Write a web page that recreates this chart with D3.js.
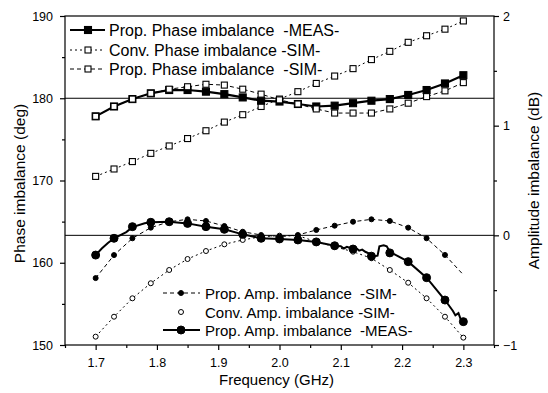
<!DOCTYPE html>
<html><head><meta charset="utf-8">
<script src="https://cdn.jsdelivr.net/npm/d3@7"></script>
<style>
body{margin:0;background:#fff;}
svg{font-family:"Liberation Sans",Arial,sans-serif;}
text{white-space:pre;}
</style></head>
<body><svg id="c" width="548" height="393"></svg>
<script>
// ---- data ----
const freq = [1.70,1.73,1.76,1.79,1.82,1.85,1.88,1.91,1.94,1.97,2.00,2.03,2.06,2.09,2.12,2.15,2.18,2.21,2.24,2.27,2.30];
const propPhaseMeas = [177.8,179.0,179.9,180.6,181.0,181.0,180.8,180.5,180.1,179.7,179.6,179.3,179.0,179.1,179.4,179.7,179.9,180.4,181.0,181.8,182.8];
const convPhaseSim  = [170.5,171.4,172.3,173.3,174.2,175.1,176.05,177.1,178.0,179.0,179.9,180.8,181.8,182.7,183.6,184.7,185.7,186.8,187.6,188.4,189.4];
const propPhaseSim  = [177.8,179.0,179.9,180.6,181.1,181.4,181.7,181.6,181.1,180.5,179.8,179.3,178.7,178.2,178.2,178.2,178.7,179.4,180.2,180.9,181.9];
const propAmpSim    = [-0.39,-0.18,-0.027,0.07,0.124,0.146,0.131,0.085,0.033,0.003,-0.012,0.003,0.049,0.088,0.124,0.146,0.131,0.07,-0.027,-0.179,-0.36];
const convAmpSim    = [-0.924,-0.742,-0.574,-0.437,-0.316,-0.216,-0.143,-0.082,-0.042,-0.012,-0.003,-0.003,-0.058,-0.104,-0.149,-0.209,-0.316,-0.432,-0.574,-0.742,-0.933];
const propAmpMeas   = [-0.18,-0.027,0.079,0.119,0.124,0.109,0.079,0.055,0.009,-0.027,-0.033,-0.042,-0.06,-0.095,-0.125,-0.19,-0.16,-0.24,-0.386,-0.59,-0.787];
// measured trace (dense)
const measTraceF = [1.70,1.71,1.72,1.73,1.75,1.76,1.78,1.79,1.82,1.85,1.88,1.91,1.94,1.97,2.00,2.03,2.06,2.09,2.10,2.105,2.11,2.12,2.125,2.13,2.135,2.14,2.15,2.155,2.16,2.163,2.17,2.175,2.18,2.21,2.24,2.27,2.283,2.287,2.292,2.296,2.30];
const measTraceV = [-0.18,-0.12,-0.07,-0.027,0.03,0.075,0.11,0.119,0.124,0.109,0.079,0.055,0.009,-0.027,-0.033,-0.042,-0.06,-0.095,-0.1,-0.12,-0.105,-0.125,-0.115,-0.14,-0.13,-0.15,-0.175,-0.19,-0.185,-0.1,-0.09,-0.1,-0.15,-0.24,-0.386,-0.59,-0.69,-0.73,-0.71,-0.77,-0.787];
const xTicks = [1.7,1.8,1.9,2.0,2.1,2.2,2.3];
const xMinor = [1.65,1.75,1.85,1.95,2.05,2.15,2.25,2.35];
const yLTicks = [150,160,170,180,190];
const yLMinor = [155,165,175,185];
const yRTicks = [-1,0,1,2];
const yRMinor = [-0.5,0.5,1.5];
const topLegend = ["Prop. Phase imbalance  -MEAS-","Conv. Phase imbalance -SIM-","Prop. Phase imbalance  -SIM-"];
const botLegend = ["Prop. Amp. imbalance  -SIM-","Conv. Amp. imbalance -SIM-","Prop. Amp. imbalance  -MEAS-"];

// ---- layout ----
const L=65,R=494,T=16,B=345;
const svg=d3.select("#c");
const x=d3.scaleLinear().domain([1.65,2.35]).range([L,R]);
const yL=d3.scaleLinear().domain([150,190]).range([B,T]);
const yR=d3.scaleLinear().domain([-1,2]).range([B,T]);

// frame
svg.append("rect").attr("x",L).attr("y",T).attr("width",R-L).attr("height",B-T)
  .attr("fill","none").attr("stroke","#000").attr("stroke-width",1.2);
// reference lines
svg.append("line").attr("x1",L).attr("x2",R).attr("y1",yL(180)).attr("y2",yL(180)).attr("stroke","#000").attr("stroke-width",1);
svg.append("line").attr("x1",L).attr("x2",R).attr("y1",yR(0)).attr("y2",yR(0)).attr("stroke","#000").attr("stroke-width",1);

function styleAxis(g){g.select(".domain").remove();g.selectAll("text").attr("font-size",12.5).attr("fill","#000")
  .attr("font-family","'Liberation Sans',Arial,sans-serif");g.selectAll("line").attr("stroke","#000").attr("stroke-width",1.2);}
svg.append("g").attr("transform",`translate(0,${B})`).call(d3.axisBottom(x).tickValues(xTicks).tickFormat(d3.format(".1f")).tickSize(5).tickPadding(8)).call(styleAxis);
svg.append("g").attr("transform",`translate(0,${B})`).call(d3.axisBottom(x).tickValues(xMinor).tickFormat("").tickSize(3)).call(styleAxis);
svg.append("g").attr("transform",`translate(${L},0)`).call(d3.axisLeft(yL).tickValues(yLTicks).tickSize(5).tickPadding(7)).call(styleAxis);
svg.append("g").attr("transform",`translate(${L},0)`).call(d3.axisLeft(yL).tickValues(yLMinor).tickFormat("").tickSize(3)).call(styleAxis);
svg.append("g").attr("transform",`translate(${R},0)`).call(d3.axisRight(yR).tickValues(yRTicks).tickFormat(d3.format("d")).tickSize(5).tickPadding(4)).call(styleAxis);
svg.append("g").attr("transform",`translate(${R},0)`).call(d3.axisRight(yR).tickValues(yRMinor).tickFormat("").tickSize(3)).call(styleAxis);

// axis titles
svg.append("text").attr("x",(L+R)/2-3).attr("y",385).attr("text-anchor","middle").attr("font-size",15).text("Frequency (GHz)");
svg.append("text").attr("transform",`translate(25,${(T+B)/2+3}) rotate(-90)`).attr("text-anchor","middle").attr("font-size",15.5).text("Phase imbalance (deg)");
svg.append("text").attr("transform",`translate(539,${(T+B)/2}) rotate(-90)`).attr("text-anchor","middle").attr("font-size",15.5).text("Amplitude imbalance (dB)");

// helpers
function series(fs,vs,ys,opt){
  const pts=fs.map((f,i)=>[x(f),ys(vs[i])]);
  svg.append("path").attr("d",d3.line()(pts)).attr("fill","none").attr("stroke","#000")
    .attr("stroke-width",opt.w).attr("stroke-dasharray",opt.dash||null);
}
function markers(fs,vs,ys,opt){
  const g=svg.append("g");
  fs.forEach((f,i)=>drawMarker(g,x(f),ys(vs[i]),opt));
}
function drawMarker(g,cx,cy,opt){
  if(opt.shape==="sq"){
    g.append("rect").attr("x",cx-opt.s/2).attr("y",cy-opt.s/2).attr("width",opt.s).attr("height",opt.s)
      .attr("fill",opt.fill).attr("stroke","#000").attr("stroke-width",1.1);
  }else{
    g.append("circle").attr("cx",cx).attr("cy",cy).attr("r",opt.s/2)
      .attr("fill",opt.fill).attr("stroke","#000").attr("stroke-width",1);
  }
}
const stConvPh={w:1,dash:"2,3",shape:"sq",s:6,fill:"#fff"};
const stMeasPh={w:2.2,shape:"sq",s:7,fill:"#000"};
const stSimPh ={w:1,dash:"4,3",shape:"sq",s:6,fill:"#fff"};
const stSimAmp={w:1,dash:"4,3",shape:"ci",s:5,fill:"#000"};
const stConvAmp={w:1,dash:"2,3",shape:"ci",s:5,fill:"#fff"};
const stMeasAmp={w:2,shape:"ci",s:8,fill:"#000"};

// phase
series(freq,convPhaseSim,yL,stConvPh); markers(freq,convPhaseSim,yL,stConvPh);
series(freq,propPhaseMeas,yL,stMeasPh); markers(freq,propPhaseMeas,yL,stMeasPh);
series(freq,propPhaseSim,yL,stSimPh); markers(freq,propPhaseSim,yL,stSimPh);
// amplitude
series(freq,convAmpSim,yR,stConvAmp); markers(freq,convAmpSim,yR,stConvAmp);
series(freq,propAmpSim,yR,stSimAmp); markers(freq.slice(0,20),propAmpSim.slice(0,20),yR,stSimAmp);
series(measTraceF,measTraceV,yR,stMeasAmp); markers(freq,propAmpMeas,yR,stMeasAmp);

// legends
const tl=[stMeasPh,stConvPh,stSimPh], tly=[30,50,69];
topLegend.forEach((t,i)=>{
  const st=tl[i];
  svg.append("line").attr("x1",70).attr("x2",105).attr("y1",tly[i]).attr("y2",tly[i]).attr("stroke","#000")
    .attr("stroke-width",st.w).attr("stroke-dasharray",st.dash||null);
  drawMarker(svg,88,tly[i],st);
  svg.append("text").attr("x",109).attr("y",tly[i]+5.5).attr("font-size",16).text(t);
});
const bl=[stSimAmp,stConvAmp,stMeasAmp], bly=[293,312,330];
botLegend.forEach((t,i)=>{
  const st=bl[i];
  if(i!==1) svg.append("line").attr("x1",163).attr("x2",200).attr("y1",bly[i]).attr("y2",bly[i]).attr("stroke","#000")
    .attr("stroke-width",st.w).attr("stroke-dasharray",st.dash||null);
  drawMarker(svg,181,bly[i],st);
  svg.append("text").attr("x",205).attr("y",bly[i]+5.5).attr("font-size",15).text(t);
});
</script></body></html>
